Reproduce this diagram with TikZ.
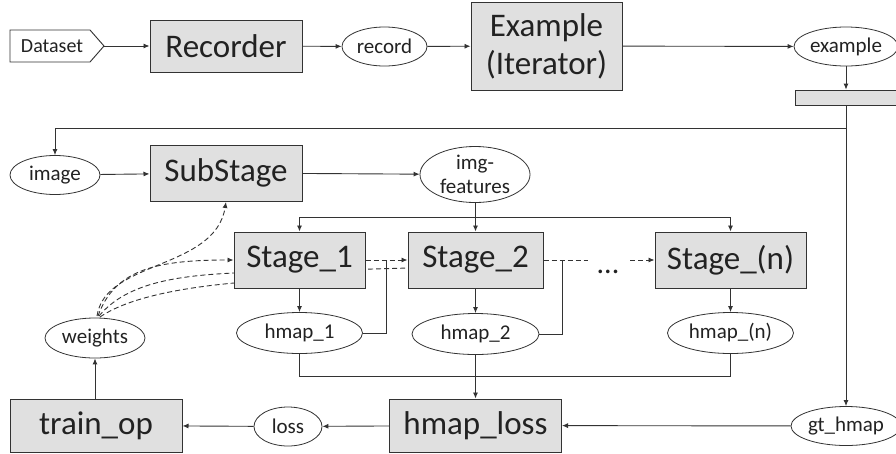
\documentclass[tikz,border=0pt]{standalone}
\usepackage{fontspec}
\setmainfont{Carlito}
\usetikzlibrary{arrows.meta,shapes.geometric}
\definecolor{boxfill}{HTML}{E0E0E0}
\definecolor{linec}{HTML}{333333}
\definecolor{txt}{HTML}{222222}
\begin{document}
\begin{tikzpicture}[x=1pt,y=-1pt,
  every node/.style={text=txt},
  box/.style={draw=linec, line width=1pt, fill=boxfill, inner sep=0pt, font=\fontsize{33}{38}\selectfont, align=center},
  oval/.style={draw=linec, line width=0.8pt, ellipse, fill=white, inner sep=0pt, minimum height=39pt, font=\fontsize{21}{25}\selectfont},
  ln/.style={draw=linec, line width=0.9pt},
  conn/.style={ln, -{Latex[length=6pt,width=5pt]}},
  dsh/.style={ln, dash pattern=on 5pt off 3pt},
  dsharr/.style={dsh, -{Latex[length=6pt,width=5pt]}},
]
\useasboundingbox (0,0) rectangle (896,453);
\clip (0,0) rectangle (896,453);

% dataset pentagon
\draw[ln] (10,30) -- (90,30) -- (104,46) -- (90,62) -- (10,62) -- cycle;
\node[font=\fontsize{20}{24}\selectfont] (dataset) at (52,46) {Dataset};
\coordinate (dtip) at (104,46);

\node[box, minimum width=152pt, minimum height=52pt] (recorder) at (226,46) {Recorder};
\node[oval, minimum width=85pt] (record) at (384.5,46.5) {record};
\node[box, minimum width=151pt, minimum height=88pt] (example) at (546.5,46) {Example\\(Iterator)};
\node[oval, minimum width=104pt] (exampleo) at (846,46.5) {example};
\node[draw=linec, fill=boxfill, line width=0.8pt, minimum width=110pt, minimum height=15pt, inner sep=0pt] (bar) at (850,97.5) {};

\draw[conn] (dtip) -- (recorder);
\draw[conn] (recorder) -- (record);
\draw[conn] (record) -- (example);
\draw[conn] (example) -- (exampleo);
\draw[conn] (exampleo.south) -- (exampleo.south |- bar.north);

% second row
\node[oval, minimum width=90pt] (image) at (55,175) {image};
\node[box, minimum width=152pt, minimum height=56pt] (substage) at (226,173) {SubStage};
\node[oval, minimum width=110pt, minimum height=56pt] (imgf) at (475,174.5) {\smash{\raisebox{-7pt}{\begin{tabular}{@{}c@{}}img-\\[-1pt]features\end{tabular}}}};

\coordinate (turn) at (846,128);
\draw[ln] (bar.south -| turn) -- (turn);
\draw[conn] (turn) -| (image.north);

\draw[conn] (image) -- (substage);
\draw[conn] (substage) -- (imgf);

% dashed weight lines (drawn under boxes)
\node[oval, minimum width=100pt, minimum height=40pt] (weights) at (95,338) {weights};
\draw[dsharr] (97,316) .. controls (105,260) and (215,270) .. (226,202);
\draw[dsh] (99,316) .. controls (125,285) and (170,276) .. (234,273) -- (408,268);
\draw[dsh] (100,317) .. controls (125,300) and (170,289) .. (234,283);

% stages
\node[box, minimum width=131pt, minimum height=56pt] (stage1) at (299.5,260) {Stage\_1};
\node[box, minimum width=135pt, minimum height=56pt] (stage2) at (475.5,260) {Stage\_2};
\node[box, minimum width=151pt, minimum height=56pt] (stagen) at (730.5,260) {Stage\_(n)};

\draw[dsharr] (98,316) .. controls (115,268) and (160,260) .. (stage1.west);

\coordinate (fan) at (475.5,217);
\draw[ln] (imgf.south) -- (imgf.south |- fan);
\draw[conn] (fan) -- (stage2.north);
\draw[conn] (fan) -| (stage1.north);
\draw[conn] (fan) -| (stagen.north);

\node[oval, minimum width=126pt, minimum height=41pt] (hmap1) at (299.5,333) {hmap\_1};
\node[oval, minimum width=127pt, minimum height=41pt] (hmap2) at (475.5,334) {hmap\_2};
\node[oval, minimum width=126pt, minimum height=41pt] (hmapn) at (730.5,333) {hmap\_(n)};

\draw[conn] (stage1) -- (hmap1);
\draw[conn] (stage2) -- (hmap2);
\draw[conn] (stagen) -- (hmapn);

\draw[dsharr] (stage1.east) -- (stage2.west);
\coordinate (j1) at (386,260);
\draw[ln] (hmap1.east) -| (j1);

\coordinate (dend) at (588,260);
\draw[dsh] (stage2.east) -- (dend);
\coordinate (j2) at (562,260);
\draw[ln] (hmap2.east) -| (j2);
\node[anchor=base, font=\fontsize{30}{32}\selectfont] (dots) at (608,273) {...};
\coordinate (dstart) at (630,260);
\draw[dsharr] (dstart) -- (stagen.west);

% bottom row
\node[box, minimum width=172pt, minimum height=53pt] (hmaploss) at (475.5,425.5) {hmap\_loss};
\node[oval, minimum width=110pt] (gthmap) at (846,426) {gt\_hmap};
\node[oval, minimum width=68pt] (loss) at (288,426.5) {loss};
\node[box, minimum width=172pt, minimum height=53pt] (trainop) at (96,425.5) {train\_op};

\coordinate (lvl) at (0,376);
\draw[ln] (hmap1.south) -- (hmap1.south |- lvl) -- (hmapn.south |- lvl) -- (hmapn.south);
\draw[conn] (hmap2.south) -- (hmaploss.north);

\draw[conn] (turn) -- (gthmap.north);
\draw[conn] (gthmap) -- (hmaploss);
\draw[conn] (hmaploss) -- (loss);
\draw[conn] (loss) -- (trainop);
\draw[conn] (trainop.north -| weights.south) -- (weights.south);
\end{tikzpicture}
\end{document}
